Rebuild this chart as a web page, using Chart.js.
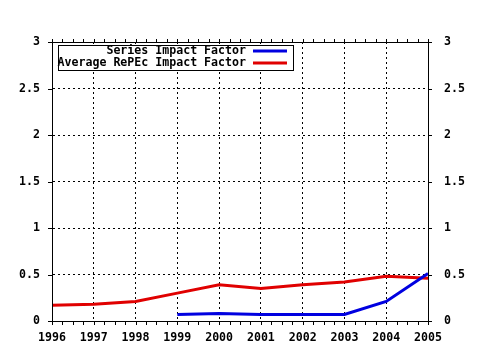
<!DOCTYPE html>
<html>
<head>
<meta charset="utf-8">
<script src="https://cdn.jsdelivr.net/npm/chart.js@4/dist/chart.umd.min.js"></script>
<style>
html,body{margin:0;padding:0;background:#fff;}
#wrap{width:480px;height:350px;position:relative;}
</style>
</head>
<body>
<div id="wrap"><canvas id="c" width="480" height="350"></canvas></div>
<script>
const years = ['1996','1997','1998','1999','2000','2001','2002','2003','2004','2005'];
const seriesIF = [null, null, null, 0.07, 0.08, 0.07, 0.07, 0.07, 0.21, 0.51];
const averageIF = [0.17, 0.18, 0.21, 0.30, 0.39, 0.35, 0.39, 0.42, 0.48, 0.46];
const seriesLabels = ['Series Impact Factor', 'Average RePEc Impact Factor'];
const seriesColors = ['#0000e0', '#e00000'];
const yMin = 0, yMax = 3, yStep = 0.5;

const FONT = 'DejaVu Sans Mono';
const FSIZE = 11.6;
const fmtY = v => String(Math.round(v * 10) / 10);

const framePlugin = {
  id: 'frame',
  afterDraw(chart) {
    const ctx = chart.ctx;
    const a = chart.chartArea;
    const xs = chart.scales.x;
    const ys = chart.scales.y;
    ctx.save();
    ctx.strokeStyle = '#000';
    ctx.lineWidth = 1;
    ctx.setLineDash([]);
    ctx.beginPath();
    ctx.rect(Math.round(a.left) + 0.5, Math.round(a.top) + 0.5, Math.round(a.right - a.left), Math.round(a.bottom - a.top));
    ctx.stroke();
    ctx.beginPath();
    for (let i = 0; i < years.length - 1; i++) {
      for (let q = 0; q < 4; q++) {
        const p0 = xs.getPixelForValue(i), p1 = xs.getPixelForValue(i + 1);
        const x = Math.round(p0 + (p1 - p0) * q / 4) + 0.5;
        ctx.moveTo(x, Math.round(a.bottom)); ctx.lineTo(x, Math.round(a.bottom) + 4);
        ctx.moveTo(x, Math.round(a.top)); ctx.lineTo(x, Math.round(a.top) - 3);
      }
    }
    const xe = Math.round(xs.getPixelForValue(years.length - 1)) + 0.5;
    ctx.moveTo(xe, Math.round(a.bottom)); ctx.lineTo(xe, Math.round(a.bottom) + 4);
    ctx.moveTo(xe, Math.round(a.top)); ctx.lineTo(xe, Math.round(a.top) - 3);
    for (let v = yMin; v <= yMax + 1e-9; v += yStep) {
      const y = Math.round(ys.getPixelForValue(v)) + 0.5;
      ctx.moveTo(Math.round(a.left) - 4, y); ctx.lineTo(Math.round(a.left), y);
      ctx.moveTo(Math.round(a.right), y); ctx.lineTo(Math.round(a.right) + 4, y);
    }
    ctx.stroke();

    const bx = 58, by = 45, bw = 235, bh = 25;
    ctx.fillStyle = '#fff';
    ctx.fillRect(bx, by, bw, bh);
    ctx.strokeRect(bx + 0.5, by + 0.5, bw, bh);
    ctx.font = 'bold ' + FSIZE + 'px "' + FONT + '"';
    ctx.textAlign = 'right';
    ctx.textBaseline = 'middle';
    ctx.fillStyle = '#000';
    const rows = [51, 63];
    for (let i = 0; i < seriesLabels.length; i++) {
      ctx.fillText(seriesLabels[i], 246, rows[i]);
      ctx.strokeStyle = seriesColors[i];
      ctx.lineWidth = 3;
      ctx.beginPath();
      ctx.moveTo(253, rows[i]);
      ctx.lineTo(287, rows[i]);
      ctx.stroke();
    }
    ctx.restore();
  }
};

new Chart(document.getElementById('c'), {
  type: 'line',
  data: {
    labels: years,
    datasets: [
      { label: seriesLabels[0], data: seriesIF, borderColor: seriesColors[0], backgroundColor: seriesColors[0], borderWidth: 3, pointRadius: 0, tension: 0, fill: false, yAxisID: 'y' },
      { label: seriesLabels[1], data: averageIF, borderColor: seriesColors[1], backgroundColor: seriesColors[1], borderWidth: 3, pointRadius: 0, tension: 0, fill: false, yAxisID: 'y' }
    ]
  },
  options: {
    responsive: false,
    animation: false,
    devicePixelRatio: 1,
    layout: { padding: { top: 42, left: 0, right: 0, bottom: 0 } },
    plugins: { legend: { display: false }, tooltip: { enabled: false } },
    scales: {
      x: {
        type: 'category',
        offset: false,
        grid: { display: true, color: '#000', lineWidth: 1, drawTicks: false, drawOnChartArea: true },
        border: { display: true, color: '#000', width: 1, dash: [2, 3] },
        ticks: { color: '#000', font: { family: FONT, size: FSIZE, weight: 'bold' }, padding: 10, maxRotation: 0, autoSkip: false },
        afterFit(s) { s.height = 29; }
      },
      y: {
        position: 'left',
        min: yMin, max: yMax,
        grid: { display: true, color: '#000', lineWidth: 1, drawTicks: false },
        border: { display: true, color: '#000', width: 1, dash: [2, 3] },
        ticks: { stepSize: yStep, color: '#000', font: { family: FONT, size: FSIZE, weight: 'bold' }, padding: 12, callback: fmtY },
        afterFit(s) { s.width = 52; }
      },
      y2: {
        position: 'right',
        min: yMin, max: yMax,
        grid: { display: true, drawOnChartArea: false, drawTicks: false },
        border: { display: true, color: '#000', width: 1 },
        ticks: { stepSize: yStep, color: '#000', font: { family: FONT, size: FSIZE, weight: 'bold' }, padding: 16, callback: fmtY },
        afterFit(s) { s.width = 52; }
      }
    }
  },
  plugins: [framePlugin]
});
</script>
</body>
</html>
